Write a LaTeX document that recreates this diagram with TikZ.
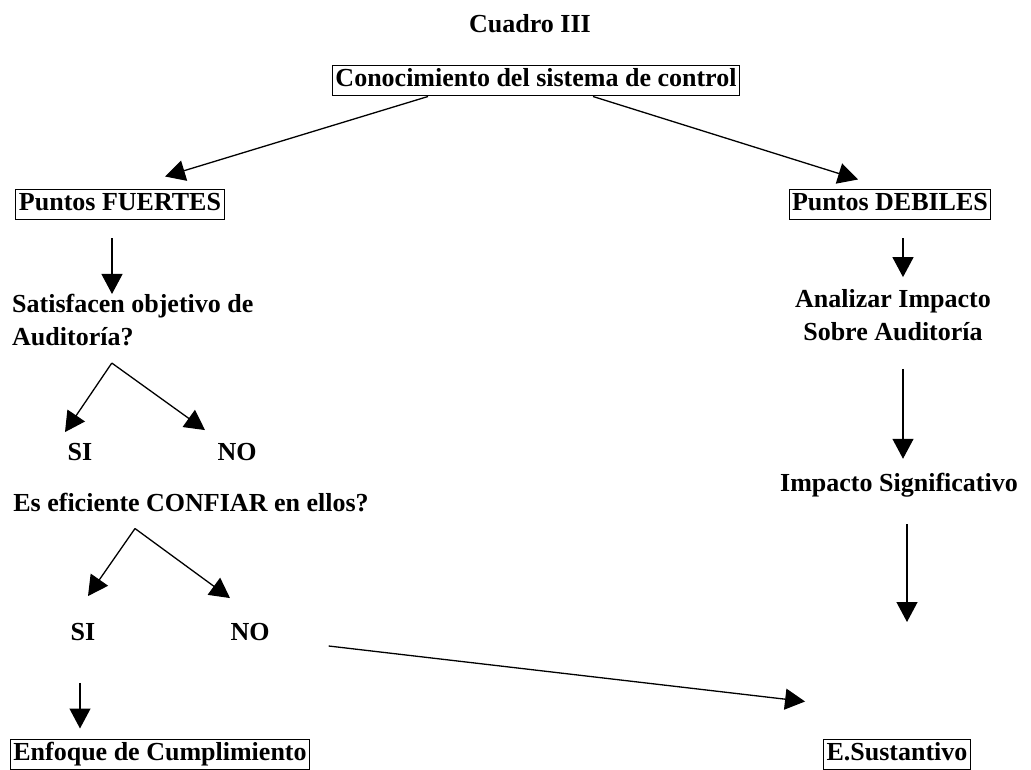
\documentclass[tikz,border=0pt]{standalone}
\usepackage{fontspec}
\setmainfont{Liberation Serif}
\usetikzlibrary{arrows.meta}
\begin{document}
\begin{tikzpicture}[x=1pt,y=-1pt,
  lbl/.style={font=\bfseries\fontsize{26}{33}\selectfont, inner sep=0pt},
  boxed/.style={lbl, draw, line width=1pt, inner xsep=3pt, inner ysep=3pt, text height=18pt, text depth=6pt},
  arr/.style={line width=1.3pt, -{Triangle[length=20pt,width=21pt]}}]
\useasboundingbox (0,0) rectangle (1031,770);
% nodes
\node[lbl] (title) at (530,24) {Cuadro III};
\node[boxed] (conoc) at (536,81) {Conocimiento del sistema de control};
\node[boxed] (fuertes) at (120,205) {Puntos FUERTES};
\node[boxed] (debiles) at (890,205) {Puntos DEBILES};
\node[lbl, align=left, anchor=west] (satis) at (12,320) {Satisfacen objetivo de\\Auditoría?};
\node[lbl] (si1) at (80,452) {SI};
\node[lbl] (no1) at (237,452) {NO};
\node[lbl] (es) at (191,503) {Es eficiente CONFIAR en ellos?};
\node[lbl] (si2) at (83,632) {SI};
\node[lbl] (no2) at (250,632) {NO};
\node[boxed] (enfoque) at (160,754) {Enfoque de Cumplimiento};
\node[boxed] (esust) at (897,754) {E.Sustantivo};
\node[lbl, align=center] (analizar) at (893,315) {Analizar Impacto\\Sobre Auditoría};
\node[lbl] (impacto) at (899,485) {Impacto Significativo};
\coordinate (a1) at ([xshift=-21pt,yshift=-17pt]satis.south);
\coordinate (a2) at ([xshift=-56pt,yshift=-16pt]es.south);
\coordinate (fin) at (907,622);
% connectors
\draw[arr] ([xshift=-108pt]conoc.south) -- ([xshift=45pt,yshift=13pt]fuertes.north);
\draw[arr] ([xshift=57pt]conoc.south) -- ([xshift=-32pt,yshift=10pt]debiles.north);
\draw[arr] ([xshift=-8pt,yshift=-18pt]fuertes.south) -- ([xshift=-8pt]fuertes.south |- satis.north);
\draw[arr] (a1) -- ([xshift=-15pt,yshift=11pt]si1.north);
\draw[arr] (a1) -- ([xshift=-32pt,yshift=13pt]no1.north);
\draw[arr] (a2) -- ([xshift=5pt,yshift=27pt]si2.north);
\draw[arr] (a2) -- ([xshift=-20pt,yshift=25pt]no2.north);
\draw[arr] ([xshift=59pt,yshift=-14pt]no2.east) -- ([xshift=-18pt,yshift=37pt]esust.north west);
\draw[arr] ([xshift=-3pt,yshift=-42pt]si2.south) -- ([xshift=-80pt,yshift=10pt]enfoque.north);
\draw[arr] ([xshift=13pt,yshift=-18pt]debiles.south) -- ([xshift=10pt,yshift=12pt]analizar.north);
\draw[arr] ([xshift=10pt,yshift=-28pt]analizar.south) -- ([xshift=4pt,yshift=14pt]impacto.north);
\draw[arr] ([xshift=8pt,yshift=-27pt]impacto.south) -- (fin);
\end{tikzpicture}
\end{document}
